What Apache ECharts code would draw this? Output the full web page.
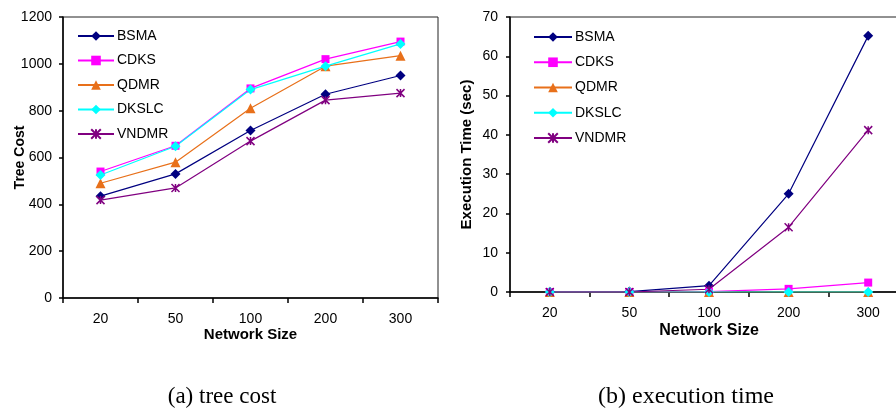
<!DOCTYPE html>
<html>
<head>
<meta charset="utf-8">
<script src="https://cdn.jsdelivr.net/npm/echarts@6/dist/echarts.min.js"></script>
<style>
html,body{margin:0;padding:0;background:#fff;}
#c{width:896px;height:410px;}
</style>
</head>
<body>
<div id="c"></div>
<script>
var categories = ['20', '50', '100', '200', '300'];
var seriesNames = ['BSMA', 'CDKS', 'QDMR', 'DKSLC', 'VNDMR'];

// (a) tree cost
var costBSMA  = [435, 530, 715, 870, 950];
var costCDKS  = [540, 650, 895, 1020, 1095];
var costQDMR  = [490, 580, 810, 990, 1035];
var costDKSLC = [525, 648, 890, 990, 1085];
var costVNDMR = [418, 470, 670, 845, 875];

// (b) execution time (sec)
var timeBSMA  = [0.05, 0.1, 1.6, 25, 65.2];
var timeCDKS  = [0, 0, 0.1, 0.8, 2.4];
var timeQDMR  = [0, 0, 0, 0, 0];
var timeDKSLC = [0, 0, 0, 0, 0];
var timeVNDMR = [0, 0, 0.7, 16.5, 41.2];

var costTicks = [0, 200, 400, 600, 800, 1000, 1200];
var timeTicks = [0, 10, 20, 30, 40, 50, 60, 70];

var FONT = "'Liberation Sans', Arial, sans-serif";
var SERIF = "'Liberation Serif', 'Times New Roman', serif";
var styles = {
  BSMA:  {color: '#000080', symbol: 'diamond', size: 10},
  CDKS:  {color: '#FF00FF', symbol: 'rect', size: 8},
  QDMR:  {color: '#E8701A', symbol: 'triangle', size: 10},
  DKSLC: {color: '#00FFFF', symbol: 'diamond', size: 10},
  VNDMR: {color: '#800080', symbol: 'path://M0,0L10,10M10,0L0,10M5,0L5,10', size: 8}
};

function mk(name, data, idx) {
  var s = styles[name];
  var isStar = name === 'VNDMR';
  return {
    name: name, type: 'line', data: data,
    xAxisIndex: idx, yAxisIndex: idx,
    symbol: s.symbol, symbolSize: s.size, showSymbol: true,
    lineStyle: {color: s.color, width: 1.2},
    itemStyle: {color: isStar ? 'rgba(0,0,0,0)' : s.color, borderColor: s.color, borderWidth: isStar ? 1.5 : 0},
    emphasis: {disabled: true},
    animation: false
  };
}

function xAx(idx, nameGap, nameSize) {
  return {
    type: 'category', gridIndex: idx, data: categories, boundaryGap: true,
    name: 'Network Size', nameLocation: 'middle', nameGap: nameGap, nameMoveOverlap: false,
    nameTextStyle: {fontFamily: FONT, fontWeight: 'bold', fontSize: nameSize, color: '#000'},
    axisLine: {lineStyle: {color: '#000', width: 1.5}},
    axisTick: {show: true, length: 5, lineStyle: {color: '#000', width: 1.5}},
    axisLabel: {fontFamily: FONT, fontSize: 14, color: '#000', margin: 14},
    splitLine: {show: false}
  };
}
function yAx(idx, name, ticks, nameGap, nameSize, margin) {
  return {
    type: 'value', gridIndex: idx, min: ticks[0], max: ticks[ticks.length - 1],
    interval: ticks[1] - ticks[0],
    name: name, nameLocation: 'middle', nameGap: nameGap, nameMoveOverlap: false,
    nameTextStyle: {fontFamily: FONT, fontWeight: 'bold', fontSize: nameSize, color: '#000'},
    axisLine: {show: true, lineStyle: {color: '#000', width: 1.5}},
    axisTick: {show: true, length: 4, lineStyle: {color: '#000', width: 1.5}},
    axisLabel: {fontFamily: FONT, fontSize: 14, color: '#000', margin: margin,
                formatter: function (v) { return String(v); }},
    splitLine: {show: false}
  };
}

var chart = echarts.init(document.getElementById('c'), null, {renderer: 'canvas'});
chart.setOption({
  backgroundColor: '#fff',
  animation: false,
  title: [
    {text: '(a) tree cost', left: 217, top: 380, textAlign: 'center',
     textStyle: {fontFamily: SERIF, fontWeight: 'normal', fontSize: 23, color: '#000'}},
    {text: '(b) execution time', left: 681, top: 380, textAlign: 'center',
     textStyle: {fontFamily: SERIF, fontWeight: 'normal', fontSize: 24, color: '#000'}}
  ],
  grid: [
    {left: 63, top: 17, width: 375, height: 281, show: true, borderColor: '#222', borderWidth: 1,
     backgroundColor: '#fff', containLabel: false, outerBoundsMode: 'none'},
    {left: 510, top: 17, width: 398, height: 275, show: true, borderColor: '#222', borderWidth: 1,
     backgroundColor: '#fff', containLabel: false, outerBoundsMode: 'none'}
  ],
  legend: [
    {orient: 'vertical', left: 72, top: 24, itemWidth: 36, itemHeight: 12, itemGap: 10.5,
     data: seriesNames, textStyle: {fontFamily: FONT, fontSize: 14, color: '#000', padding: [0, 0, 0, -2]},
     selectedMode: false},
    {orient: 'vertical', left: 528, top: 25, itemWidth: 38, itemHeight: 12, itemGap: 11.25,
     data: seriesNames, textStyle: {fontFamily: FONT, fontSize: 14, color: '#000', padding: [0, 0, 0, -2]},
     selectedMode: false}
  ],
  xAxis: [xAx(0, 29, 15), xAx(1, 31, 16)],
  yAxis: [yAx(0, 'Tree Cost', costTicks, 36, 14, 11), yAx(1, 'Execution Time (sec)', timeTicks, 36, 15, 12)],
  series: [
    mk('BSMA', costBSMA, 0), mk('CDKS', costCDKS, 0), mk('QDMR', costQDMR, 0),
    mk('DKSLC', costDKSLC, 0), mk('VNDMR', costVNDMR, 0),
    mk('BSMA', timeBSMA, 1), mk('CDKS', timeCDKS, 1), mk('QDMR', timeQDMR, 1),
    mk('DKSLC', timeDKSLC, 1), mk('VNDMR', timeVNDMR, 1)
  ]
});
</script>
</body>
</html>
